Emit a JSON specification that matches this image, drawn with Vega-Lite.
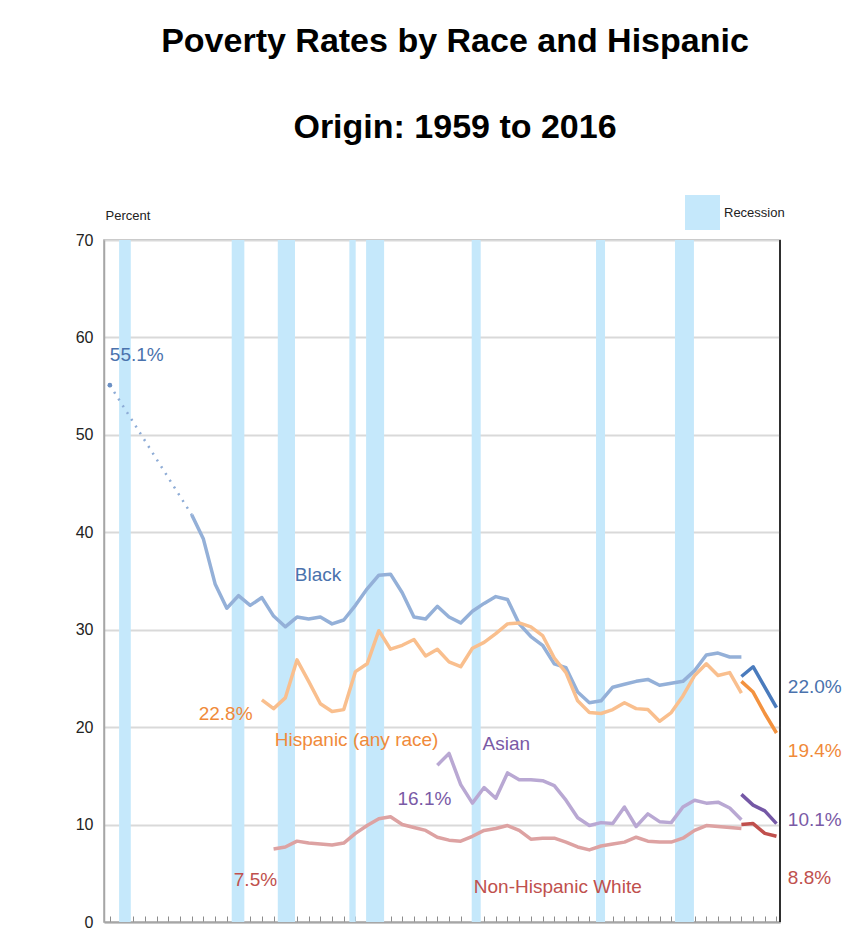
{
  "$schema": "https://vega.github.io/schema/vega-lite/v6.json",
  "width": 676,
  "height": 682,
  "autosize": {"type": "none"},
  "padding": {"left": 104, "top": 240, "right": 70, "bottom": 26},
  "background": "white",
  "config": {
    "font": "Liberation Sans, Arial, sans-serif",
    "view": {"stroke": "#a6a6a6", "strokeWidth": 1.5}
  },
  "title": {
    "text": ["Poverty Rates by Race and Hispanic", "Origin: 1959 to 2016"],
    "fontSize": 34,
    "fontWeight": "bold",
    "color": "#000000",
    "lineHeight": 86,
    "anchor": "middle",
    "frame": "group",
    "dx": 13,
    "dy": -46
  },
  "datasets": {
    "recession": [
      {"start": 1959.79, "end": 1960.79, "lab": "Recession"},
      {"start": 1969.42, "end": 1970.5, "lab": "Recession"},
      {"start": 1973.36, "end": 1974.83, "lab": "Recession"},
      {"start": 1979.48, "end": 1980.02, "lab": "Recession"},
      {"start": 1980.91, "end": 1982.45, "lab": "Recession"},
      {"start": 1989.94, "end": 1990.71, "lab": "Recession"},
      {"start": 2000.57, "end": 2001.34, "lab": "Recession"},
      {"start": 2007.32, "end": 2008.94, "lab": "Recession"}
    ],
    "lines": [
      {"s": "Black gap", "year": 1959, "v": 55.1},
      {"s": "Black gap", "year": 1966, "v": 41.8},
      {"s": "Black old", "year": 1966, "v": 41.8},
      {"s": "Black old", "year": 1967, "v": 39.3},
      {"s": "Black old", "year": 1968, "v": 34.7},
      {"s": "Black old", "year": 1969, "v": 32.2},
      {"s": "Black old", "year": 1970, "v": 33.5},
      {"s": "Black old", "year": 1971, "v": 32.5},
      {"s": "Black old", "year": 1972, "v": 33.3},
      {"s": "Black old", "year": 1973, "v": 31.4},
      {"s": "Black old", "year": 1974, "v": 30.3},
      {"s": "Black old", "year": 1975, "v": 31.3},
      {"s": "Black old", "year": 1976, "v": 31.1},
      {"s": "Black old", "year": 1977, "v": 31.3},
      {"s": "Black old", "year": 1978, "v": 30.6},
      {"s": "Black old", "year": 1979, "v": 31.0},
      {"s": "Black old", "year": 1980, "v": 32.5},
      {"s": "Black old", "year": 1981, "v": 34.2},
      {"s": "Black old", "year": 1982, "v": 35.6},
      {"s": "Black old", "year": 1983, "v": 35.7},
      {"s": "Black old", "year": 1984, "v": 33.8},
      {"s": "Black old", "year": 1985, "v": 31.3},
      {"s": "Black old", "year": 1986, "v": 31.1},
      {"s": "Black old", "year": 1987, "v": 32.4},
      {"s": "Black old", "year": 1988, "v": 31.3},
      {"s": "Black old", "year": 1989, "v": 30.7},
      {"s": "Black old", "year": 1990, "v": 31.9},
      {"s": "Black old", "year": 1991, "v": 32.7},
      {"s": "Black old", "year": 1992, "v": 33.4},
      {"s": "Black old", "year": 1993, "v": 33.1},
      {"s": "Black old", "year": 1994, "v": 30.6},
      {"s": "Black old", "year": 1995, "v": 29.3},
      {"s": "Black old", "year": 1996, "v": 28.4},
      {"s": "Black old", "year": 1997, "v": 26.5},
      {"s": "Black old", "year": 1998, "v": 26.1},
      {"s": "Black old", "year": 1999, "v": 23.6},
      {"s": "Black old", "year": 2000, "v": 22.5},
      {"s": "Black old", "year": 2001, "v": 22.7},
      {"s": "Black old", "year": 2002, "v": 24.1},
      {"s": "Black old", "year": 2003, "v": 24.4},
      {"s": "Black old", "year": 2004, "v": 24.7},
      {"s": "Black old", "year": 2005, "v": 24.9},
      {"s": "Black old", "year": 2006, "v": 24.3},
      {"s": "Black old", "year": 2007, "v": 24.5},
      {"s": "Black old", "year": 2008, "v": 24.7},
      {"s": "Black old", "year": 2009, "v": 25.8},
      {"s": "Black old", "year": 2010, "v": 27.4},
      {"s": "Black old", "year": 2011, "v": 27.6},
      {"s": "Black old", "year": 2012, "v": 27.2},
      {"s": "Black old", "year": 2013, "v": 27.2},
      {"s": "Hispanic old", "year": 1972, "v": 22.8},
      {"s": "Hispanic old", "year": 1973, "v": 21.9},
      {"s": "Hispanic old", "year": 1974, "v": 23.0},
      {"s": "Hispanic old", "year": 1975, "v": 26.9},
      {"s": "Hispanic old", "year": 1976, "v": 24.7},
      {"s": "Hispanic old", "year": 1977, "v": 22.4},
      {"s": "Hispanic old", "year": 1978, "v": 21.6},
      {"s": "Hispanic old", "year": 1979, "v": 21.8},
      {"s": "Hispanic old", "year": 1980, "v": 25.7},
      {"s": "Hispanic old", "year": 1981, "v": 26.5},
      {"s": "Hispanic old", "year": 1982, "v": 29.9},
      {"s": "Hispanic old", "year": 1983, "v": 28.0},
      {"s": "Hispanic old", "year": 1984, "v": 28.4},
      {"s": "Hispanic old", "year": 1985, "v": 29.0},
      {"s": "Hispanic old", "year": 1986, "v": 27.3},
      {"s": "Hispanic old", "year": 1987, "v": 28.0},
      {"s": "Hispanic old", "year": 1988, "v": 26.7},
      {"s": "Hispanic old", "year": 1989, "v": 26.2},
      {"s": "Hispanic old", "year": 1990, "v": 28.1},
      {"s": "Hispanic old", "year": 1991, "v": 28.7},
      {"s": "Hispanic old", "year": 1992, "v": 29.6},
      {"s": "Hispanic old", "year": 1993, "v": 30.6},
      {"s": "Hispanic old", "year": 1994, "v": 30.7},
      {"s": "Hispanic old", "year": 1995, "v": 30.3},
      {"s": "Hispanic old", "year": 1996, "v": 29.4},
      {"s": "Hispanic old", "year": 1997, "v": 27.1},
      {"s": "Hispanic old", "year": 1998, "v": 25.6},
      {"s": "Hispanic old", "year": 1999, "v": 22.7},
      {"s": "Hispanic old", "year": 2000, "v": 21.5},
      {"s": "Hispanic old", "year": 2001, "v": 21.4},
      {"s": "Hispanic old", "year": 2002, "v": 21.8},
      {"s": "Hispanic old", "year": 2003, "v": 22.5},
      {"s": "Hispanic old", "year": 2004, "v": 21.9},
      {"s": "Hispanic old", "year": 2005, "v": 21.8},
      {"s": "Hispanic old", "year": 2006, "v": 20.6},
      {"s": "Hispanic old", "year": 2007, "v": 21.5},
      {"s": "Hispanic old", "year": 2008, "v": 23.2},
      {"s": "Hispanic old", "year": 2009, "v": 25.3},
      {"s": "Hispanic old", "year": 2010, "v": 26.5},
      {"s": "Hispanic old", "year": 2011, "v": 25.3},
      {"s": "Hispanic old", "year": 2012, "v": 25.6},
      {"s": "Hispanic old", "year": 2013, "v": 23.5},
      {"s": "Asian old", "year": 1987, "v": 16.1},
      {"s": "Asian old", "year": 1988, "v": 17.3},
      {"s": "Asian old", "year": 1989, "v": 14.1},
      {"s": "Asian old", "year": 1990, "v": 12.2},
      {"s": "Asian old", "year": 1991, "v": 13.8},
      {"s": "Asian old", "year": 1992, "v": 12.7},
      {"s": "Asian old", "year": 1993, "v": 15.3},
      {"s": "Asian old", "year": 1994, "v": 14.6},
      {"s": "Asian old", "year": 1995, "v": 14.6},
      {"s": "Asian old", "year": 1996, "v": 14.5},
      {"s": "Asian old", "year": 1997, "v": 14.0},
      {"s": "Asian old", "year": 1998, "v": 12.5},
      {"s": "Asian old", "year": 1999, "v": 10.7},
      {"s": "Asian old", "year": 2000, "v": 9.9},
      {"s": "Asian old", "year": 2001, "v": 10.2},
      {"s": "Asian old", "year": 2002, "v": 10.1},
      {"s": "Asian old", "year": 2003, "v": 11.8},
      {"s": "Asian old", "year": 2004, "v": 9.8},
      {"s": "Asian old", "year": 2005, "v": 11.1},
      {"s": "Asian old", "year": 2006, "v": 10.3},
      {"s": "Asian old", "year": 2007, "v": 10.2},
      {"s": "Asian old", "year": 2008, "v": 11.8},
      {"s": "Asian old", "year": 2009, "v": 12.5},
      {"s": "Asian old", "year": 2010, "v": 12.2},
      {"s": "Asian old", "year": 2011, "v": 12.3},
      {"s": "Asian old", "year": 2012, "v": 11.7},
      {"s": "Asian old", "year": 2013, "v": 10.5},
      {"s": "White old", "year": 1973, "v": 7.5},
      {"s": "White old", "year": 1974, "v": 7.7},
      {"s": "White old", "year": 1975, "v": 8.3},
      {"s": "White old", "year": 1976, "v": 8.1},
      {"s": "White old", "year": 1977, "v": 8.0},
      {"s": "White old", "year": 1978, "v": 7.9},
      {"s": "White old", "year": 1979, "v": 8.1},
      {"s": "White old", "year": 1980, "v": 9.1},
      {"s": "White old", "year": 1981, "v": 9.9},
      {"s": "White old", "year": 1982, "v": 10.6},
      {"s": "White old", "year": 1983, "v": 10.8},
      {"s": "White old", "year": 1984, "v": 10.0},
      {"s": "White old", "year": 1985, "v": 9.7},
      {"s": "White old", "year": 1986, "v": 9.4},
      {"s": "White old", "year": 1987, "v": 8.7},
      {"s": "White old", "year": 1988, "v": 8.4},
      {"s": "White old", "year": 1989, "v": 8.3},
      {"s": "White old", "year": 1990, "v": 8.8},
      {"s": "White old", "year": 1991, "v": 9.4},
      {"s": "White old", "year": 1992, "v": 9.6},
      {"s": "White old", "year": 1993, "v": 9.9},
      {"s": "White old", "year": 1994, "v": 9.4},
      {"s": "White old", "year": 1995, "v": 8.5},
      {"s": "White old", "year": 1996, "v": 8.6},
      {"s": "White old", "year": 1997, "v": 8.6},
      {"s": "White old", "year": 1998, "v": 8.2},
      {"s": "White old", "year": 1999, "v": 7.7},
      {"s": "White old", "year": 2000, "v": 7.4},
      {"s": "White old", "year": 2001, "v": 7.8},
      {"s": "White old", "year": 2002, "v": 8.0},
      {"s": "White old", "year": 2003, "v": 8.2},
      {"s": "White old", "year": 2004, "v": 8.7},
      {"s": "White old", "year": 2005, "v": 8.3},
      {"s": "White old", "year": 2006, "v": 8.2},
      {"s": "White old", "year": 2007, "v": 8.2},
      {"s": "White old", "year": 2008, "v": 8.6},
      {"s": "White old", "year": 2009, "v": 9.4},
      {"s": "White old", "year": 2010, "v": 9.9},
      {"s": "White old", "year": 2011, "v": 9.8},
      {"s": "White old", "year": 2012, "v": 9.7},
      {"s": "White old", "year": 2013, "v": 9.6},
      {"s": "Black new", "year": 2013, "v": 25.2},
      {"s": "Black new", "year": 2014, "v": 26.2},
      {"s": "Black new", "year": 2015, "v": 24.1},
      {"s": "Black new", "year": 2016, "v": 22.0},
      {"s": "Hispanic new", "year": 2013, "v": 24.7},
      {"s": "Hispanic new", "year": 2014, "v": 23.6},
      {"s": "Hispanic new", "year": 2015, "v": 21.4},
      {"s": "Hispanic new", "year": 2016, "v": 19.4},
      {"s": "Asian new", "year": 2013, "v": 13.1},
      {"s": "Asian new", "year": 2014, "v": 12.0},
      {"s": "Asian new", "year": 2015, "v": 11.4},
      {"s": "Asian new", "year": 2016, "v": 10.1},
      {"s": "White new", "year": 2013, "v": 10.0},
      {"s": "White new", "year": 2014, "v": 10.1},
      {"s": "White new", "year": 2015, "v": 9.1},
      {"s": "White new", "year": 2016, "v": 8.8}
    ],
    "labels": [
      {"t": "55.1%", "year": 1959.0, "v": 58.2, "s": "Black lab"},
      {"t": "Black", "year": 1976.8, "v": 35.6, "s": "Black lab"},
      {"t": "22.0%", "year": 2016.97, "v": 24.1, "s": "Black lab"},
      {"t": "22.8%", "year": 1971.2, "v": 21.4, "s": "Hispanic lab"},
      {"t": "Hispanic (any race)", "year": 1973.1, "v": 18.7, "s": "Hispanic lab"},
      {"t": "19.4%", "year": 2016.97, "v": 17.6, "s": "Hispanic lab"},
      {"t": "Asian", "year": 1992.9, "v": 18.3, "s": "Asian lab"},
      {"t": "16.1%", "year": 1988.2, "v": 12.6, "s": "Asian lab"},
      {"t": "10.1%", "year": 2016.97, "v": 10.5, "s": "Asian lab"},
      {"t": "7.5%", "year": 1973.3, "v": 4.3, "s": "White lab"},
      {"t": "Non-Hispanic White", "year": 1997.3, "v": 3.6, "s": "White lab"},
      {"t": "8.8%", "year": 2016.97, "v": 4.5, "s": "White lab"}
    ]
  },
  "encoding": {
    "x": {
      "type": "quantitative",
      "scale": {"domain": [1958.5, 2016.3], "nice": false, "zero": false},
      "axis": {
        "title": null,
        "labels": false,
        "grid": false,
        "values": [1959,1960,1961,1962,1963,1964,1965,1966,1967,1968,1969,1970,1971,1972,1973,1974,1975,1976,1977,1978,1979,1980,1981,1982,1983,1984,1985,1986,1987,1988,1989,1990,1991,1992,1993,1994,1995,1996,1997,1998,1999,2000,2001,2002,2003,2004,2005,2006,2007,2008,2009,2010,2011,2012,2013,2014,2015,2016],
        "tickSize": -6,
        "tickColor": "#8c8c8c",
        "tickWidth": 1,
        "domainColor": "#a6a6a6",
        "domainWidth": 2
      }
    },
    "y": {
      "type": "quantitative",
      "scale": {"domain": [0, 70], "nice": false},
      "axis": {
        "title": "Percent",
        "titleAngle": 0,
        "titleAlign": "left",
        "titleBaseline": "middle",
        "titleX": 1,
        "titleY": -25,
        "titleFontSize": 13,
        "titleFontWeight": "normal",
        "titleColor": "#222222",
        "values": [0, 10, 20, 30, 40, 50, 60, 70],
        "ticks": false,
        "labelPadding": 11,
        "labelFontSize": 16,
        "labelColor": "#222222",
        "grid": true,
        "gridColor": "#d9d9d9",
        "gridWidth": 2,
        "domainColor": "#a6a6a6",
        "domainWidth": 1.5
      }
    }
  },
  "layer": [
    {
      "data": {"name": "recession"},
      "mark": {"type": "rect", "opacity": 1},
      "encoding": {
        "x": {"field": "start", "type": "quantitative"},
        "x2": {"field": "end"},
        "fill": {
          "field": "lab",
          "type": "nominal",
          "scale": {"range": ["#c5e8fb"]},
          "legend": {
            "title": null,
            "orient": "none",
            "legendX": 581,
            "legendY": -45,
            "symbolType": "square",
            "symbolSize": 1225,
            "symbolStrokeWidth": 0,
            "symbolOpacity": 1,
            "labelFontSize": 13,
            "labelColor": "#222222",
            "labelOffset": 4,
            "padding": 0
          }
        }
      }
    },
    {
      "data": {"name": "lines"},
      "transform": [{"filter": "datum.s == 'Black gap'"}],
      "mark": {"type": "line", "strokeWidth": 2.5, "strokeDash": [2, 6]},
      "encoding": {
        "x": {"field": "year", "type": "quantitative"},
        "y": {"field": "v", "type": "quantitative"},
        "color": {"field": "s", "type": "nominal", "legend": null}
      }
    },
    {
      "data": {"name": "lines"},
      "transform": [{"filter": "datum.s == 'Black gap' && datum.year == 1959"}],
      "mark": {"type": "circle", "size": 22, "opacity": 1, "color": "#6b90c4"},
      "encoding": {
        "x": {"field": "year", "type": "quantitative"},
        "y": {"field": "v", "type": "quantitative"}
      }
    },
    {
      "data": {"name": "lines"},
      "transform": [{"filter": "datum.s != 'Black gap'"}],
      "mark": {"type": "line", "strokeWidth": 3.5, "strokeJoin": "round"},
      "encoding": {
        "x": {"field": "year", "type": "quantitative"},
        "y": {"field": "v", "type": "quantitative"},
        "color": {
          "field": "s",
          "type": "nominal",
          "legend": null,
          "scale": {
            "domain": ["Black gap", "Black old", "Black new", "Hispanic old", "Hispanic new", "Asian old", "Asian new", "White old", "White new", "Black lab", "Hispanic lab", "Asian lab", "White lab"],
            "range": ["#8eacd6", "#94b0d8", "#4a7bbd", "#f9bf8e", "#f3923f", "#b9a8d3", "#7558a6", "#dda2a2", "#c0504d", "#4a72ad", "#f08a3a", "#7a5aa6", "#c0504d"]
          }
        }
      }
    },
    {
      "data": {"name": "labels"},
      "transform": [{"filter": {"field": "t", "oneOf": ["55.1%", "Hispanic (any race)", "22.0%", "19.4%", "10.1%", "8.8%"]}}],
      "mark": {"type": "text", "align": "left", "baseline": "middle", "fontSize": 19},
      "encoding": {
        "x": {"field": "year", "type": "quantitative"},
        "y": {"field": "v", "type": "quantitative"},
        "text": {"field": "t"},
        "color": {"field": "s", "type": "nominal", "legend": null}
      }
    },
    {
      "data": {"name": "labels"},
      "transform": [{"filter": {"field": "t", "oneOf": ["Black", "Asian", "Non-Hispanic White"]}}],
      "mark": {"type": "text", "align": "center", "baseline": "middle", "fontSize": 19},
      "encoding": {
        "x": {"field": "year", "type": "quantitative"},
        "y": {"field": "v", "type": "quantitative"},
        "text": {"field": "t"},
        "color": {"field": "s", "type": "nominal", "legend": null}
      }
    },
    {
      "data": {"name": "labels"},
      "transform": [{"filter": {"field": "t", "oneOf": ["22.8%", "16.1%", "7.5%"]}}],
      "mark": {"type": "text", "align": "right", "baseline": "middle", "fontSize": 19},
      "encoding": {
        "x": {"field": "year", "type": "quantitative"},
        "y": {"field": "v", "type": "quantitative"},
        "text": {"field": "t"},
        "color": {"field": "s", "type": "nominal", "legend": null}
      }
    },
    {
      "data": {"values": [{}]},
      "mark": {"type": "rule", "color": "#000000", "strokeWidth": 1.5},
      "encoding": {"x": {"datum": 2016.3}}
    }
  ],
  "resolve": {"scale": {"color": "shared"}}
}
